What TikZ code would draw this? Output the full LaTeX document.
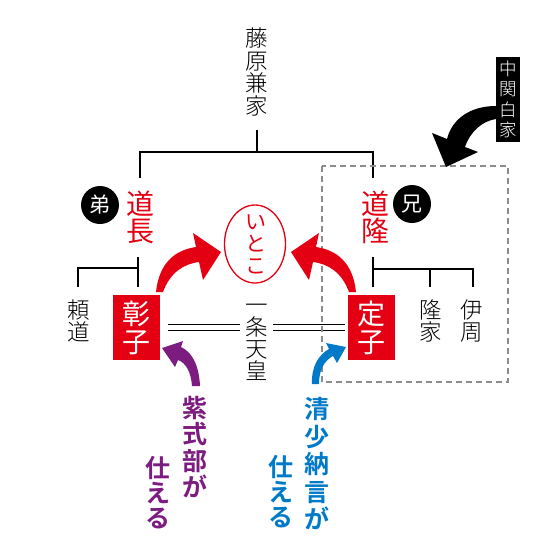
\documentclass[tikz,border=0pt]{standalone}
\usepackage{fontspec}
\newfontfamily\cjk{Noto Sans CJK JP}
\newfontfamily\cjkl{Noto Sans CJK JP Light}
\newfontfamily\cjkb{Noto Sans CJK JP Bold}
\usetikzlibrary{shapes.geometric}
\definecolor{myred}{RGB}{228,0,18}
\definecolor{mypurple}{RGB}{125,28,128}
\definecolor{myblue}{RGB}{0,122,200}
\definecolor{dashgray}{RGB}{140,140,140}
\begin{document}
\begin{tikzpicture}[x=1pt,y=-1pt,
  vt/.style={align=center, inner sep=0pt},
  tree/.style={line width=1.8pt, black},
  redbox/.style={fill=myred, text=white, minimum width=47pt, minimum height=65pt, inner sep=0pt, align=center,
     font=\cjk\fontsize{28}{28}\selectfont},
  badge/.style={text=white, inner sep=0pt, font=\cjk\fontsize{21}{21}\selectfont},
  dbl/.style={line width=1.7pt, black}]
\path[use as bounding box] (0,0) rectangle (554,554);

% top person
\node[vt, font=\cjkl\fontsize{22.5}{22.5}\selectfont] (kaneie) at (257,72) {藤\\原\\兼\\家};
\coordinate (k0) at (257,130);
\coordinate (k1) at (257,152);
\coordinate (l1) at (140,152);
\coordinate (l2) at (140,178);
\coordinate (r1) at (373,152);
\coordinate (r2) at (373,178);
\draw[tree] (k0) -- (k1);
\draw[tree] (l2) -- (l1) -- (r1) -- (r2);

% brothers
\node[vt, text=myred, font=\cjk\fontsize{28}{27}\selectfont] (michinaga) at (140,217) {道\\長};
\node[vt, text=myred, font=\cjk\fontsize{28}{27}\selectfont] (michitaka) at (375,217) {道\\隆};
\coordinate (otoutoC) at (100,205);
\coordinate (aniC) at (412,204);
\fill[black] (otoutoC) circle[radius=19];
\fill[black] (aniC) circle[radius=19];
\node[badge] (otouto) at (otoutoC) {弟};
\node[badge] (ani) at (aniC) {兄};

% itoko
\node[draw=myred, line width=1.3pt, ellipse, minimum width=61pt, minimum height=78pt, inner sep=0pt] (itokoE) at (255,244) {};
\node[vt, text=myred, font=\cjk\fontsize{21}{22}\selectfont] (itoko) at (256,244) {い\\と\\こ};

% left sub-tree
\coordinate (a0) at (138,257);
\coordinate (a1) at (138,287);
\coordinate (a2) at (138,268);
\coordinate (a3) at (78,268);
\coordinate (a4) at (78,287);
\draw[tree] (a0) -- (a1);
\draw[tree] (a2) -- (a3) -- (a4);
\node[vt, font=\cjkl\fontsize{22.5}{22}\selectfont] (yorimichi) at (79,321) {頼\\道};
\node[redbox] (akiko) at (136.5,327.5) {彰\\子};

% right sub-tree
\coordinate (b0) at (373,257);
\coordinate (b1) at (373,287);
\coordinate (b2) at (373,269);
\coordinate (b3) at (473,269);
\coordinate (b4) at (473,287);
\coordinate (b5) at (430,269);
\coordinate (b6) at (430,287);
\draw[tree] (b0) -- (b1);
\draw[tree] (b2) -- (b3) -- (b4);
\draw[tree] (b5) -- (b6);
\node[vt, font=\cjkl\fontsize{22.5}{22}\selectfont] (takaie) at (431,321) {隆\\家};
\node[vt, font=\cjkl\fontsize{22.5}{22}\selectfont] (korechika) at (472,321) {伊\\周};
\node[redbox] (teishi) at (371.5,327.5) {定\\子};

% emperor
\node[vt, font=\cjkl\fontsize{22.5}{22}\selectfont] (tenno) at (257,342) {一\\条\\天\\皇};
\draw[dbl] ([yshift=-3pt]akiko.east) ++(8,0) -- ++(72,0);
\draw[dbl] ([yshift=3pt]akiko.east) ++(8,0) -- ++(72,0);
\draw[dbl] ([yshift=-3pt]teishi.west) ++(-3,0) -- ++(-72,0);
\draw[dbl] ([yshift=3pt]teishi.west) ++(-3,0) -- ++(-72,0);

% dashed family box
\draw[dashgray, line width=1.4pt, dash pattern=on 6pt off 4pt] (322,166) rectangle (508,382);
\node[fill=black, text=white, minimum width=24pt, minimum height=85pt, inner sep=0pt, align=center,
  font=\cjkl\fontsize{17.5}{20.5}\selectfont] (chukanpaku) at (508,99.5) {中\\関\\白\\家};

% black arrow
\fill[black] (496,106) .. controls (470,106) and (452,119) .. (447,139) -- (432,133) -- (446,167)
  -- (478,152) -- (465,147) .. controls (470,132) and (482,121) .. (496,119) -- cycle;

% red arrows
\fill[myred] (156,292) .. controls (159,263) and (175,250) .. (196,247) -- (193,233) -- (221,252)
  -- (203,280) -- (199,262) .. controls (183,264) and (170,273) .. (163,292) -- cycle;
\fill[myred] (356,292) .. controls (353,263) and (337,250) .. (316,247) -- (319,233) -- (291,252)
  -- (309,280) -- (313,262) .. controls (329,264) and (342,273) .. (349,292) -- cycle;

% purple arrow and text
\fill[mypurple] (200,386) .. controls (199,365) and (192,352) .. (181,347) -- (183,341) -- (162,348)
  -- (175,367) -- (178,360) .. controls (186,363) and (191,372) .. (192,386) -- cycle;
\node[vt, text=mypurple, font=\cjkb\fontsize{25}{26.5}\selectfont] (murasaki) at (195,447) {紫\\式\\部\\が};
\node[vt, text=mypurple, font=\cjkb\fontsize{25}{25}\selectfont] (tsukaeL) at (158,493) {仕\\え\\る};

% blue arrow and text
\fill[myblue] (312,384) .. controls (311,368) and (318,355) .. (329,349) -- (326,343) -- (346,347)
  -- (337,363) -- (333,356) .. controls (324,361) and (319,370) .. (319,384) -- cycle;
\node[vt, text=myblue, font=\cjkb\fontsize{25}{27.5}\selectfont] (seisho) at (317,464) {清\\少\\納\\言\\が};
\node[vt, text=myblue, font=\cjkb\fontsize{25}{25}\selectfont] (tsukaeR) at (281,492) {仕\\え\\る};
\end{tikzpicture}
\end{document}
